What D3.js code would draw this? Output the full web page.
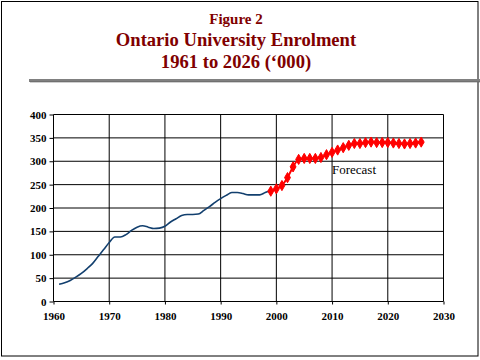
<!DOCTYPE html>
<html><head><meta charset="utf-8">
<script src="https://cdn.jsdelivr.net/npm/d3@7"></script>
<style>html,body{margin:0;padding:0;background:#fff;}svg{display:block;}</style>
</head><body>
<script>
const titleLines = ["Figure 2", "Ontario University Enrolment", "1961 to 2026 (\u2018000)"];
const histYears = [1961,1962,1963,1964,1965,1966,1967,1968,1969,1970,1971,1972,1973,1974,1975,1976,1977,1978,1979,1980,1981,1982,1983,1984,1985,1986,1987,1988,1989,1990,1991,1992,1993,1994,1995,1996,1997,1998,1999];
const histValues = [37,40,45,52,60,70,81,96,111,126,138,138,143,152,159,162,159,156,157,161,170,177,184,186,186,187,195,203,212,220,227,233,233,231,228,228,228,233,238];
const fcYears = [1999,2000,2001,2002,2003,2004,2005,2006,2007,2008,2009,2010,2011,2012,2013,2014,2015,2016,2017,2018,2019,2020,2021,2022,2023,2024,2025,2026];
const fcValues = [236,241,248,265,288,304,306,306,306,308,314,319,324,329,334,338,338,340,341,340,340,340,339,338,337,338,339,341];
const xTicks = [1960,1970,1980,1990,2000,2010,2020,2030];
const yTicks = [0,50,100,150,200,250,300,350,400];
const annotation = "Forecast";

const W = 480, H = 360;
const svg = d3.select("body").append("svg").attr("width", W).attr("height", H);
svg.append("rect").attr("x",0).attr("y",0).attr("width",W).attr("height",H).attr("fill","#fff");
svg.append("rect").attr("x",1.5).attr("y",1.5).attr("width",476.5).attr("height",354.5)
  .attr("fill","none").attr("stroke","#000").attr("stroke-width",1);

const tSizes = [15, 18.6, 18.6], tY = [24, 46, 68];
titleLines.forEach((t,i)=>{
  svg.append("text").attr("x",236).attr("y",tY[i]).attr("text-anchor","middle")
    .attr("font-family","'Liberation Serif','Times New Roman',serif").attr("font-weight","bold")
    .attr("font-size",tSizes[i]).attr("fill","#800000").text(t);
});
svg.append("rect").attr("x",29).attr("y",79).attr("width",451).attr("height",3).attr("fill","#808080");
svg.append("rect").attr("x",30).attr("y",81.5).attr("width",450).attr("height",0.8).attr("fill","#606060");

const x = d3.scaleLinear().domain([1960,2030]).range([53.5,443.5]);
const y = d3.scaleLinear().domain([0,400]).range([301.5,114.5]);

const g = svg.append("g");
g.selectAll(".hg").data(yTicks).join("line")
  .attr("x1",x(1960)).attr("x2",x(2030)).attr("y1",d=>y(d)).attr("y2",d=>y(d))
  .attr("stroke","#000").attr("stroke-width",1);
g.selectAll(".vg").data(xTicks).join("line")
  .attr("x1",d=>x(d)).attr("x2",d=>x(d)).attr("y1",y(0)).attr("y2",y(400))
  .attr("stroke","#000").attr("stroke-width",1);

const fontTick = "'Liberation Serif','Times New Roman',serif";
const yAxis = svg.append("g").attr("transform",`translate(${x(1960)},0)`)
  .call(d3.axisLeft(y).tickValues(yTicks).tickSize(4).tickPadding(3).tickFormat(d3.format("d")));
const xAxis = svg.append("g").attr("transform",`translate(0,${y(0)})`)
  .call(d3.axisBottom(x).tickValues(xTicks).tickSize(3).tickPadding(8).tickFormat(d3.format("d")));
[xAxis,yAxis].forEach(a=>{
  a.select(".domain").remove();
  a.selectAll("line").attr("stroke","#000");
  a.selectAll("text").attr("font-family",fontTick).attr("font-weight","bold").attr("font-size",11).attr("fill","#000");
});

const line = d3.line().x(d=>x(d[0])).y(d=>y(d[1])).curve(d3.curveMonotoneX);
svg.append("path").datum(histYears.map((d,i)=>[d,histValues[i]]))
  .attr("d",line).attr("fill","none").attr("stroke","#123f6e").attr("stroke-width",1.6);
const fc = fcYears.map((d,i)=>[d,fcValues[i]]);
svg.append("path").datum(fc).attr("d",line).attr("fill","none").attr("stroke","#ff0000").attr("stroke-width",2);
const sym = d3.symbol().type(d3.symbolDiamond).size(30);
svg.selectAll(".mk").data(fc).join("path")
  .attr("transform",d=>`translate(${x(d[0])},${y(d[1])})`).attr("d",sym)
  .attr("fill","#ff0000").attr("stroke","#ff0000").attr("stroke-width",1);

svg.append("text").attr("x",332).attr("y",174).attr("font-family",fontTick)
  .attr("font-size",13).attr("fill","#000").text(annotation);
</script>
</body></html>
